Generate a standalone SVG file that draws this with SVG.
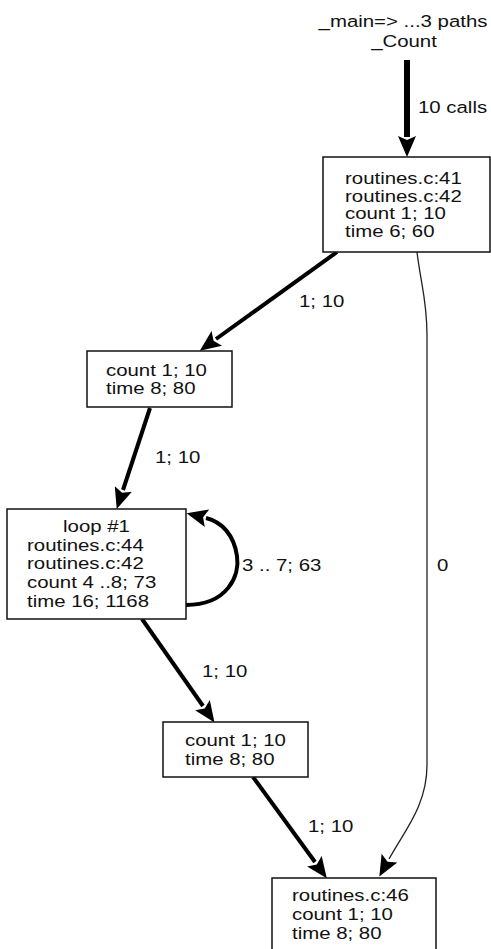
<svg xmlns="http://www.w3.org/2000/svg" width="491" height="949" viewBox="0 0 491 949">
<defs>
<style>
text{font-family:"Liberation Sans",Arial,sans-serif;font-size:17px;fill:#111}
.box{fill:#fff;stroke:#111;stroke-width:1.5}
.thick{fill:none;stroke:#000;stroke-width:4}
.thin{fill:none;stroke:#222;stroke-width:1.3}
</style>
<marker id="ah" markerUnits="userSpaceOnUse" markerWidth="22" markerHeight="18" refX="1" refY="9" orient="auto" viewBox="0 0 22 18">
<path d="M0,0 L21,9 L0,18 L4,9 z" fill="#000"/>
</marker>
</defs>
<rect width="491" height="949" fill="#fff"/>
<g id="title">
<text text-anchor="middle" transform="translate(403 27) scale(1.2 1)">_main=&gt; ...3 paths</text>
<text text-anchor="middle" transform="translate(404 47) scale(1.2 1)">_Count</text>
</g>
<g id="connectors">
<path class="thick" style="stroke-width:6" d="M407,60 L407,137" marker-end="url(#ah)"/>
<text transform="translate(418 113) scale(1.2 1)">10 calls</text>
<path class="thick" d="M337,252 L216,339" marker-end="url(#ah)"/>
<text transform="translate(299 307) scale(1.2 1)">1; 10</text>
<path class="thick" d="M150,408 L123,490" marker-end="url(#ah)"/>
<text transform="translate(155 463) scale(1.2 1)">1; 10</text>
<path class="thick" d="M186,605 C228,605 240,575 237,556 C234,535 222,522 206,518" marker-end="url(#ah)"/>
<text transform="translate(242 571) scale(1.2 1)">3 .. 7; 63</text>
<path class="thick" d="M142,619 L203,706" marker-end="url(#ah)"/>
<text transform="translate(202 677) scale(1.2 1)">1; 10</text>
<path class="thick" d="M253,777 L315,862" marker-end="url(#ah)"/>
<text transform="translate(308 832) scale(1.2 1)">1; 10</text>
<path class="thin" d="M417,252 C421,285 427,300 427,335 L427,765 C427,805 405,830 389,859" marker-end="url(#ah)"/>
<text transform="translate(437 571) scale(1.2 1)">0</text>
</g>
<g id="n1">
<rect class="box" x="323" y="157" width="167" height="95"/>
<text transform="translate(345 184) scale(1.2 1)"><tspan x="0" y="0">routines.c:41</tspan><tspan x="0" y="17.7">routines.c:42</tspan><tspan x="0" y="35.4">count 1; 10</tspan><tspan x="0" y="53.1">time 6; 60</tspan></text>
</g>
<g id="n2">
<rect class="box" x="87" y="351" width="145" height="56"/>
<text transform="translate(106 376) scale(1.2 1)"><tspan x="0" y="0">count 1; 10</tspan><tspan x="0" y="18.5">time 8; 80</tspan></text>
</g>
<g id="n3">
<rect class="box" x="7" y="509" width="179" height="110"/>
<text text-anchor="middle" transform="translate(96.5 532) scale(1.2 1)">loop #1</text>
<text transform="translate(27 550.7) scale(1.2 1)"><tspan x="0" y="0">routines.c:44</tspan><tspan x="0" y="18.8">routines.c:42</tspan><tspan x="0" y="37.6">count 4 ..8; 73</tspan><tspan x="0" y="56.4">time 16; 1168</tspan></text>
</g>
<g id="n4">
<rect class="box" x="163" y="722" width="145" height="55"/>
<text transform="translate(185 746) scale(1.2 1)"><tspan x="0" y="0">count 1; 10</tspan><tspan x="0" y="19">time 8; 80</tspan></text>
</g>
<g id="n5">
<rect class="box" x="272" y="878" width="164" height="85"/>
<text transform="translate(292 901) scale(1.2 1)"><tspan x="0" y="0">routines.c:46</tspan><tspan x="0" y="19">count 1; 10</tspan><tspan x="0" y="38">time 8; 80</tspan></text>
</g>
</svg>
